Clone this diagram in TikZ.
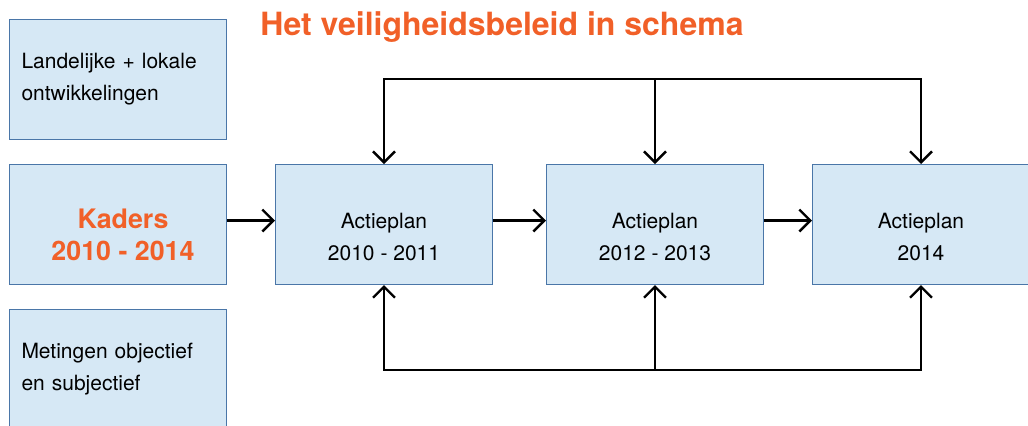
\documentclass[tikz,border=0pt]{standalone}
\usepackage{fontspec}
\setmainfont{TeX Gyre Heros}
\usetikzlibrary{positioning, arrows.meta}
\definecolor{boxblue}{RGB}{214,232,245}
\definecolor{boxedge}{RGB}{74,118,168}
\definecolor{kaderorange}{RGB}{241,96,40}

\begin{document}
\begin{tikzpicture}[
title/.style={font=\fontsize{16}{19}\selectfont\bfseries, text=kaderorange},
block/.style={rectangle, fill=boxblue, draw=boxedge, line width=0.5pt,
    minimum width=108.5pt, minimum height=60pt, inner sep=0pt,
    font=\fontsize{10.5}{16}\selectfont},
block-side/.style={block, text width=96.5pt, inner xsep=6pt, align=left},
block-kader/.style={block, align=center, text=kaderorange,
    font=\fontsize{13.4}{16}\selectfont\bfseries},
block-plan/.style={block, align=center},
line/.style={draw, line width=1.2pt, -{Straight Barb[length=5.5pt, width=11pt]}}
]
\useasboundingbox (0,0) rectangle (514pt,-212.5pt);

\node [title] (title) at (251pt,-13.3pt) {Het veiligheidsbeleid in schema};

\node [block-side, anchor=north west] (trends) at (4.5pt,-9.5pt) {Landelijke + lokale\\ontwikkelingen};
\node [block-kader, below=12pt of trends] (kader) {\mbox{}\\[4pt]\hspace{5pt}Kaders\\\hspace{5pt}2010 - 2014};
\node [block-side, below=12pt of kader] (meting) {Metingen objectief\\en subjectief};

\node [block-plan, right=24pt of kader] (plan1) {\mbox{}\\[4pt]Actieplan\\2010 - 2011};
\node [block-plan, right=26.5pt of plan1] (plan2) {\mbox{}\\[4pt]Actieplan\\2012 - 2013};
\node [block-plan, right=24pt of plan2] (plan3) {\mbox{}\\[4pt]Actieplan\\2014};

\coordinate [above=42.5pt of plan2.north] (top);
\coordinate [below=42.5pt of plan2.south] (bottom);

\draw [line] ([yshift=2pt]kader.east) -- ([yshift=2pt]plan1.west);
\draw [line] ([yshift=2pt]plan1.east) -- ([yshift=2pt]plan2.west);
\draw [line] ([yshift=2pt]plan2.east) -- ([yshift=2pt]plan3.west);

\draw [line] (top) -| (plan1.north);
\draw [line] (top) -- (plan2.north);
\draw [line] (top) -| (plan3.north);

\draw [line] (bottom) -| (plan1.south);
\draw [line] (bottom) -- (plan2.south);
\draw [line] (bottom) -| (plan3.south);
\end{tikzpicture}
\end{document}
